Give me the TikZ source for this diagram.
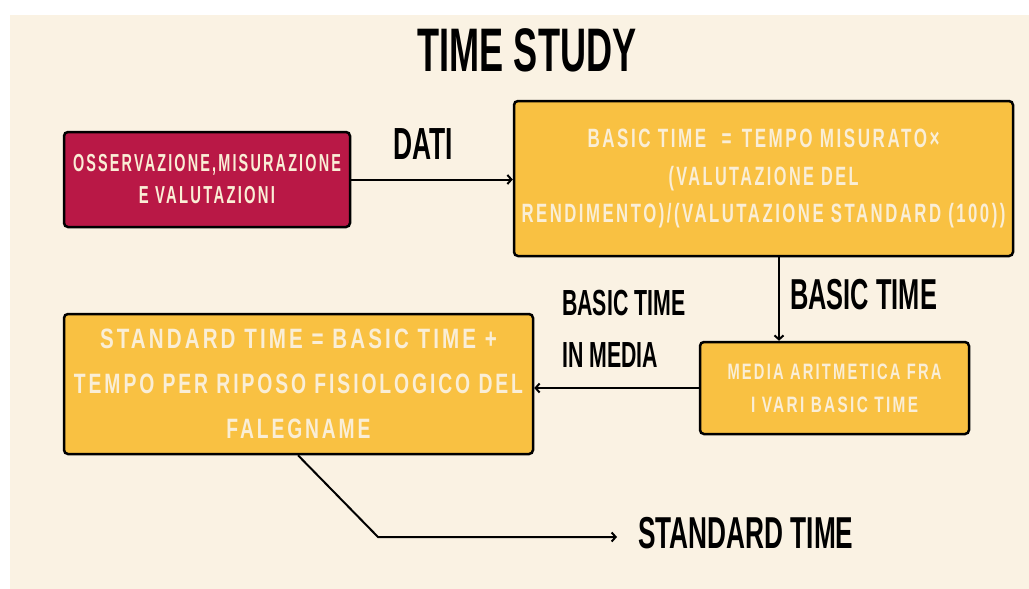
\documentclass[tikz,border=0pt]{standalone}
\usepackage{fontspec}
\usepackage{graphicx}
\usetikzlibrary{arrows.meta}
\newfontfamily\headfont{Liberation Sans Bold}[FakeStretch=0.587]
\newfontfamily\boxfont{Liberation Sans Bold}[LetterSpace=15]
\definecolor{cream}{RGB}{250,242,227}
\definecolor{crimson}{RGB}{185,24,70}
\definecolor{mustard}{RGB}{249,193,66}
\definecolor{boxtext}{RGB}{250,238,214}
% set one line of box text to a given width, keeping its height
\newcommand\fitline[2]{\resizebox{#1}{\height}{#2}}
\tikzset{
  card/.style={draw=black, line width=2.5pt, rounded corners=4pt, inner sep=0pt,
    align=center, text=boxtext},
  heading/.style={inner sep=0pt, text=black},
  link/.style={draw=black, line width=2pt, -{Straight Barb[length=4pt,width=9pt,line width=2pt]}},
}
\begin{document}
\begin{tikzpicture}[x=1pt,y=-1pt]
  \useasboundingbox (0,0) rectangle (1029,589);
  \fill[white] (0,0) rectangle (1029,589);
  \fill[cream] (10,15) rectangle (1029,589);

  % title
  \node[heading, font=\headfont\fontsize{61.5}{61.5}\selectfont] (title) at (527,50) {TIME STUDY};

  % boxes
  \node[card, fill=crimson, minimum width=286pt, minimum height=95pt,
        font=\boxfont\fontsize{24.6}{32}\selectfont] (obs) at (207,179.5)
        {\fitline{268pt}{OSSERVAZIONE,MISURAZIONE}\\\fitline{136pt}{E VALUTAZIONI}};
  \node[card, fill=mustard, minimum width=499pt, minimum height=155pt,
        font=\boxfont\fontsize{26.5}{37.5}\selectfont] (basic) at (763.5,178.5)
        {\fitline{352pt}{BASIC TIME\hspace{0.9em}=\hspace{0.6em}TEMPO MISURATO×}\\
         \fitline{190pt}{(VALUTAZIONE DEL}\\
         \fitline{484pt}{RENDIMENTO)/(VALUTAZIONE STANDARD (100))}};
  \node[card, fill=mustard, minimum width=269pt, minimum height=92pt,
        font=\boxfont\fontsize{22.3}{33}\selectfont] (media) at (834.5,388)
        {\fitline{214pt}{MEDIA ARITMETICA FRA}\\\fitline{167pt}{I VARI BASIC TIME}};
  \node[card, fill=mustard, minimum width=469pt, minimum height=140pt,
        font=\boxfont\fontsize{28}{45}\selectfont] (std) at (298.5,384)
        {\fitline{397pt}{STANDARD TIME = BASIC TIME +}\\
         \fitline{449pt}{TEMPO PER RIPOSO FISIOLOGICO DEL}\\
         \fitline{144pt}{FALEGNAME}};

  % connector labels
  \node[heading, font=\headfont\fontsize{45}{45}\selectfont] (dati) at (423,144) {DATI};
  \node[heading, font=\headfont\fontsize{43.3}{43.3}\selectfont, anchor=west] (bt) at (790,295) {BASIC TIME};
  \node[heading, font=\headfont\fontsize{36.3}{52}\selectfont, anchor=west, align=left] (btm) at (562,329) {BASIC TIME\\IN MEDIA};
  \node[heading, font=\headfont\fontsize{44.7}{44.7}\selectfont, anchor=west] (out) at (638,533) {STANDARD TIME};

  % connectors
  \coordinate (drop) at (779,0);
  \coordinate (exit) at (298,0);
  \coordinate (bend) at (378,537);
  \coordinate (tip) at (617,537);
  \draw[link] (obs.east) -- (obs.east -| basic.west);
  \draw[link] (basic.south -| drop) -- (media.north -| drop);
  \draw[link] (media.west) -- (media.west -| std.east);
  \draw[link] (std.south -| exit) -- (bend) -- (tip);
\end{tikzpicture}
\end{document}
